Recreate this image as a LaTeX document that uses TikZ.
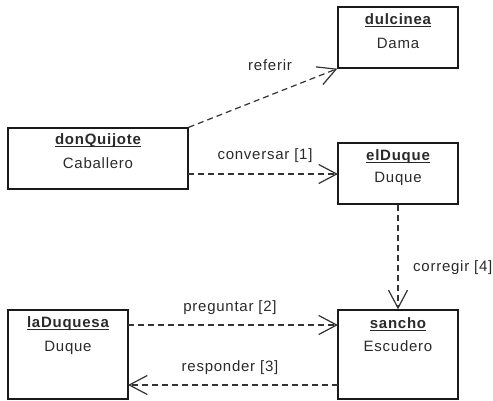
\documentclass[tikz,border=0pt]{standalone}
\usepackage{fontspec}
\setmainfont{Liberation Sans}[LetterSpace=5]
\usetikzlibrary{arrows.meta}
\definecolor{ink}{HTML}{2A2A2A}
\definecolor{edge}{HTML}{1A1A1A}
\definecolor{wire}{HTML}{333333}
% underline drawn as a rule under the whole name
\newcommand\objul[1]{\setbox0\hbox{#1}\rlap{\rule[-2.6pt]{\wd0}{1.1pt}}\box0}
\tikzset{
  objbox/.style={draw=edge, line width=1.3pt, rectangle, inner sep=0pt},
  objname/.style={text=ink, font=\fontsize{15}{17}\selectfont\bfseries, inner sep=0pt},
  objtype/.style={text=ink, font=\fontsize{15}{17}\selectfont, inner sep=0pt},
  msg/.style={draw=wire, line width=1.2pt, dash pattern=on 6pt off 4pt,
    -{Straight Barb[length=18pt,width=19pt,line width=1.2pt]}},
  msglabel/.style={text=ink, font=\fontsize{15}{17}\selectfont, inner sep=0pt}
}
\begin{document}
\begin{tikzpicture}[x=1pt,y=-1pt]
\useasboundingbox (0,0) rectangle (493,401);
% objects
\node[objbox, minimum width=120pt, minimum height=61pt] (dulcinea) at (398,37.5) {};
\node[objbox, minimum width=180pt, minimum height=61pt] (quijote) at (98,158.5) {};
\node[objbox, minimum width=120pt, minimum height=61pt] (duque) at (398,173.5) {};
\node[objbox, minimum width=120pt, minimum height=89pt] (duquesa) at (68,354.5) {};
\node[objbox, minimum width=120pt, minimum height=89pt] (sancho) at (398,354.5) {};
% names and classifiers
\node[objname] (n1) at (398,20) {\objul{dulcinea}};
\node[objtype] (t1) at (398,43) {Dama};
\node[objname] (n2) at (98,141) {\objul{donQuijote}};
\node[objtype] (t2) at (98,163) {Caballero};
\node[objname] (n3) at (398,157) {\objul{elDuque}};
\node[objtype] (t3) at (398,179) {Duque};
\node[objname] (n4) at (68,324) {\objul{laDuquesa}};
\node[objtype] (t4) at (68,348) {Duque};
\node[objname] (n5) at (398,324) {\objul{sancho}};
\node[objtype] (t5) at (398,346) {Escudero};
% messages
\coordinate (q1) at (188,174);
\coordinate (d1) at (338,174);
\coordinate (a1) at (128,325);
\coordinate (s1) at (338,325);
\coordinate (s2) at (338,385);
\coordinate (a2) at (128,385);
\draw[msg] (quijote.north east) -- (dulcinea.south west);
\draw[msg] (q1) -- (d1);
\draw[msg] (duque.south) -- (sancho.north);
\draw[msg] (a1) -- (s1);
\draw[msg] (s2) -- (a2);
\node[msglabel] (l1) at (270,65) {referir};
\node[msglabel] (l2) at (265,156) {conversar [1]};
\node[msglabel, anchor=west] (l3) at (413,268) {corregir [4]};
\node[msglabel] (l4) at (230,308) {preguntar [2]};
\node[msglabel] (l5) at (230,368) {responder [3]};
\end{tikzpicture}
\end{document}
